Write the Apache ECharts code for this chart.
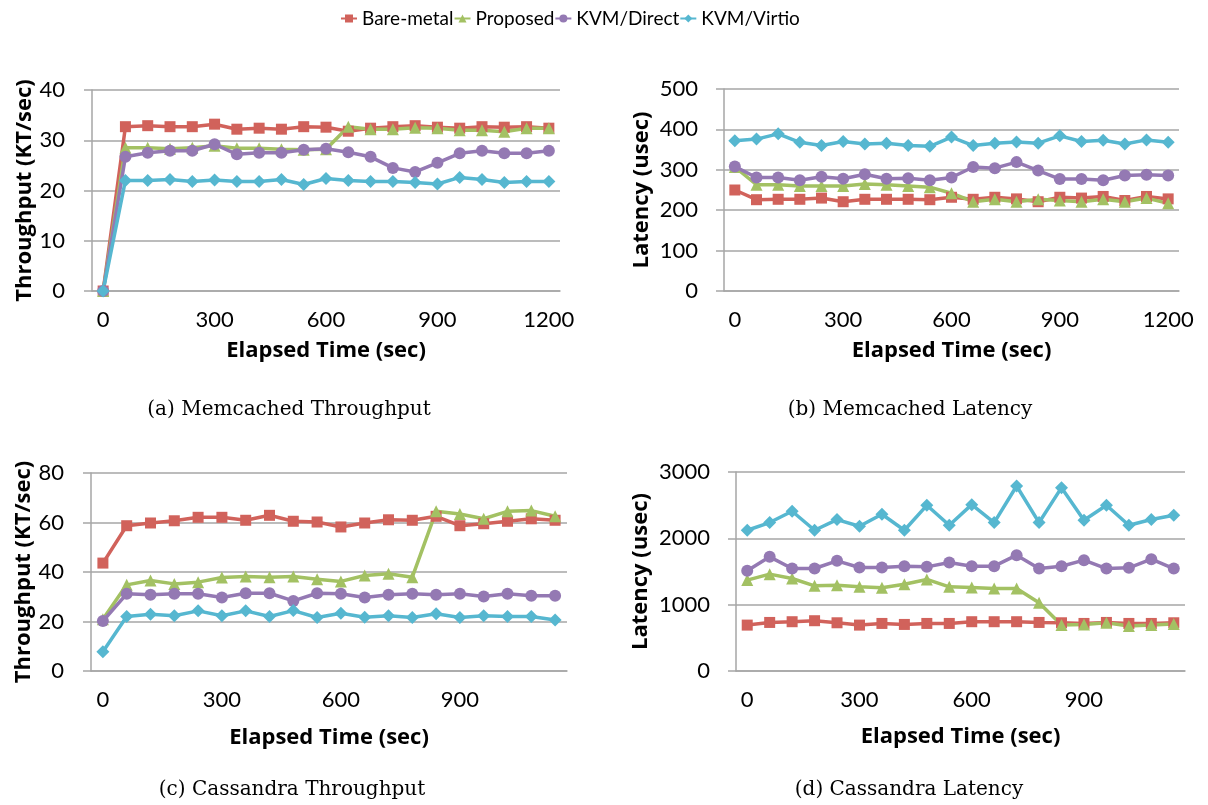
<!DOCTYPE html>
<html>
<head>
<meta charset="utf-8">
<script src="https://cdn.jsdelivr.net/npm/echarts@6/dist/echarts.min.js"></script>
<style>
  html, body { margin: 0; padding: 0; background: #fff; }
  #chart { width: 1208px; height: 805px; }
</style>
</head>
<body>
<div id="chart"></div>
<script>
// categories (seconds)
var timeMem = [0, 60, 120, 180, 240, 300, 360, 420, 480, 540, 600, 660, 720, 780, 840, 900, 960, 1020, 1080, 1140, 1200]
var timeCas = [0, 60, 120, 180, 240, 300, 360, 420, 480, 540, 600, 660, 720, 780, 840, 900, 960, 1020, 1080, 1140]

var seriesNames = ['Bare-metal', 'Proposed', 'KVM/Direct', 'KVM/Virtio']

// (a) Memcached throughput, KT/sec
var memTputBare = [0, 32.7, 32.9, 32.7, 32.7, 33.2, 32.2, 32.4, 32.2, 32.7, 32.6, 31.8, 32.4, 32.7, 32.9, 32.6, 32.4, 32.7, 32.6, 32.7, 32.4]
var memTputProp = [0, 28.5, 28.5, 28.3, 28.5, 28.9, 28.4, 28.4, 28.2, 28.1, 28.2, 32.7, 32.2, 32.2, 32.5, 32.4, 32.0, 32.0, 31.7, 32.4, 32.4]
var memTputDirect = [0, 26.7, 27.5, 27.9, 27.9, 29.2, 27.2, 27.5, 27.5, 28.1, 28.3, 27.6, 26.7, 24.5, 23.7, 25.5, 27.4, 27.9, 27.4, 27.4, 27.9]
var memTputVirtio = [0, 22.0, 22.0, 22.2, 21.8, 22.1, 21.8, 21.8, 22.2, 21.2, 22.4, 22.0, 21.8, 21.8, 21.6, 21.3, 22.6, 22.2, 21.6, 21.8, 21.8]

// (b) Memcached latency, usec
var memLatBare = [250, 226, 227, 227, 230, 221, 227, 227, 227, 226, 232, 227, 232, 228, 221, 232, 230, 234, 224, 234, 228]
var memLatProp = [307, 263, 263, 260, 260, 260, 265, 263, 260, 257, 242, 221, 227, 221, 227, 224, 221, 227, 221, 230, 217]
var memLatDirect = [308, 281, 281, 274, 283, 278, 289, 278, 279, 274, 281, 307, 304, 319, 298, 277, 277, 274, 286, 288, 286]
var memLatVirtio = [372, 376, 389, 368, 360, 370, 364, 366, 360, 358, 381, 360, 366, 369, 366, 384, 370, 373, 364, 374, 368]

// (c) Cassandra throughput, KT/sec
var casTputBare = [43.6, 58.7, 59.8, 60.7, 62.1, 62.1, 60.9, 62.9, 60.5, 60.2, 58.2, 59.8, 61.1, 60.9, 62.5, 58.7, 59.5, 60.5, 61.5, 60.9]
var casTputProp = [20.9, 34.8, 36.6, 35.2, 35.9, 37.8, 38.2, 37.9, 38.2, 37.1, 36.2, 38.6, 39.3, 37.9, 64.5, 63.4, 61.5, 64.5, 64.8, 62.5]
var casTputDirect = [20.2, 31.2, 30.8, 31.2, 31.2, 29.7, 31.4, 31.4, 28.3, 31.4, 31.2, 29.7, 30.8, 31.2, 30.8, 31.2, 30.1, 31.2, 30.4, 30.4]
var casTputVirtio = [7.8, 22.0, 22.9, 22.3, 24.3, 22.3, 24.3, 22.0, 24.4, 21.6, 23.3, 21.7, 22.3, 21.6, 23.1, 21.6, 22.3, 22.0, 22.0, 20.6]

// (d) Cassandra latency, usec
var casLatBare = [692, 732, 743, 758, 727, 692, 717, 702, 717, 717, 743, 743, 743, 732, 727, 717, 732, 717, 717, 727]
var casLatProp = [1370, 1460, 1395, 1284, 1294, 1269, 1254, 1309, 1380, 1269, 1259, 1244, 1244, 1028, 692, 702, 727, 677, 692, 707]
var casLatDirect = [1510, 1721, 1545, 1545, 1661, 1560, 1560, 1580, 1570, 1636, 1580, 1580, 1746, 1545, 1580, 1671, 1545, 1555, 1686, 1545]
var casLatVirtio = [2122, 2238, 2408, 2122, 2283, 2182, 2363, 2122, 2498, 2197, 2508, 2238, 2789, 2238, 2764, 2273, 2498, 2197, 2283, 2348]

var colors = ['#D1625B', '#A3C163', '#9479B3', '#56B7D0']
var symbols = ['rect', 'triangle', 'circle', 'diamond']
var symbolSizes = [11, 12, 12, 13]

var tickFont = 'Lato, "Open Sans", sans-serif'
var titleFont = '"Open Sans", Lato, sans-serif'
var axisColor = '#A6A6A6'

var panels = [
  { left: 92, top: 90, width: 468, height: 201, cats: timeMem, max: 40, step: 10, yName: 'Throughput (KT/sec)', nameGap: 56,
    labelMargin: 27, xNameGap: 49, data: [memTputBare, memTputProp, memTputDirect, memTputVirtio] },
  { left: 724, top: 89, width: 455, height: 202, cats: timeMem, max: 500, step: 100, yName: 'Latency (usec)', nameGap: 71,
    labelMargin: 26, xNameGap: 49, data: [memLatBare, memLatProp, memLatDirect, memLatVirtio] },
  { left: 91, top: 473, width: 476, height: 198, cats: timeCas, max: 80, step: 20, yName: 'Throughput (KT/sec)', nameGap: 56,
    labelMargin: 27, xNameGap: 56, data: [casTputBare, casTputProp, casTputDirect, casTputVirtio] },
  { left: 736, top: 472, width: 449, height: 199, cats: timeCas, max: 3000, step: 1000, yName: 'Latency (usec)', nameGap: 84,
    labelMargin: 26, xNameGap: 55, data: [casLatBare, casLatProp, casLatDirect, casLatVirtio] }
]

var captions = [
  { text: '(a) Memcached Throughput', x: 284, y: 407 },
  { text: '(b) Memcached Latency', x: 905, y: 407 },
  { text: '(c) Cassandra Throughput', x: 287, y: 787 },
  { text: '(d) Cassandra Latency', x: 904, y: 787 }
]

var grids = [], xAxes = [], yAxes = [], series = []
panels.forEach(function (p, i) {
  grids.push({ left: p.left, top: p.top, width: p.width, height: p.height, containLabel: false })
  xAxes.push({
    type: 'category',
    gridIndex: i,
    data: p.cats,
    boundaryGap: true,
    name: 'Elapsed Time (sec)',
    nameLocation: 'middle',
    nameGap: p.xNameGap,
    nameTextStyle: { fontFamily: titleFont, fontWeight: 'bold', fontSize: 22, color: '#000' },
    axisLine: { lineStyle: { color: axisColor, width: 1.5 } },
    axisTick: { interval: 4, length: 7, lineStyle: { color: axisColor, width: 1.5 } },
    axisLabel: { interval: 4, margin: 18, fontFamily: tickFont, fontSize: 22, color: '#000' },
    splitLine: { show: false }
  })
  yAxes.push({
    type: 'value',
    gridIndex: i,
    min: 0,
    max: p.max,
    interval: p.step,
    name: p.yName,
    nameLocation: 'middle',
    nameGap: p.nameGap,
    nameTextStyle: { fontFamily: titleFont, fontWeight: 'bold', fontSize: 22, color: '#000' },
    axisLine: { show: true, lineStyle: { color: axisColor, width: 1.5 } },
    axisTick: { show: true, length: 8, lineStyle: { color: axisColor, width: 1.5 } },
    axisLabel: { margin: p.labelMargin, fontFamily: tickFont, fontSize: 22, color: '#000',
      formatter: function (v) { return String(v) } },
    splitLine: { show: true, lineStyle: { color: axisColor, width: 1.5 } }
  })
  p.data.forEach(function (values, k) {
    series.push({
      name: seriesNames[k],
      type: 'line',
      xAxisIndex: i,
      yAxisIndex: i,
      data: values,
      symbol: symbols[k],
      symbolSize: symbolSizes[k],
      showSymbol: true,
      lineStyle: { width: 3.5, color: colors[k] },
      itemStyle: { color: colors[k] },
      emphasis: { disabled: true }
    })
  })
})

var chart = echarts.init(document.getElementById('chart'))
var option = {
  animation: false,
  backgroundColor: '#fff',
  color: colors,
  legend: {
    top: 4,
    left: 335,
    itemWidth: 16,
    itemHeight: 10,
    itemGap: 0,
    textStyle: { fontFamily: tickFont, fontSize: 19, color: '#000' },
    data: seriesNames
  },
  title: captions.map(function (c) {
    return {
      text: c.text,
      left: c.x,
      top: c.y - 12,
      textAlign: 'center',
      textStyle: { fontFamily: '"DejaVu Serif", "Liberation Serif", serif', fontWeight: 'normal', fontSize: 20, color: '#000' }
    }
  }),
  grid: grids,
  xAxis: xAxes,
  yAxis: yAxes,
  series: series
}
chart.setOption(option)
</script>
</body>
</html>
